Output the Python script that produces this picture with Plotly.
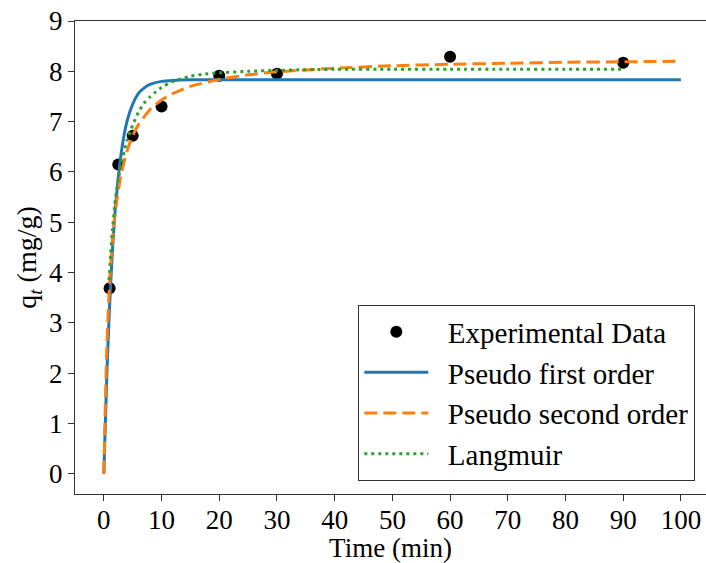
import plotly.graph_objects as go

# Experimental data
exp_t = [1, 2.5, 5, 10, 20, 30, 60, 90]
exp_q = [3.69, 6.15, 6.72, 7.30, 7.91, 7.95, 8.29, 8.17]

# Pseudo first order curve
pfo_t = [0, 0.5, 1, 1.5, 2, 3, 4, 5, 6, 7, 8, 10, 12, 15, 20, 30, 40, 50, 60, 70, 80, 90, 100]
pfo_q = [0, 1.91, 3.36, 4.45, 5.28, 6.37, 7.00, 7.35, 7.56, 7.67, 7.74, 7.80, 7.82, 7.83, 7.83, 7.83, 7.83, 7.83, 7.83, 7.83, 7.83, 7.83, 7.83]

# Pseudo second order curve
pso_t = [0, 0.5, 1, 1.5, 2, 3, 4, 5, 6, 8, 10, 12, 15, 20, 25, 30, 40, 50, 60, 70, 80, 90, 100]
pso_q = [0, 2.48, 3.81, 4.65, 5.23, 5.96, 6.41, 6.72, 6.94, 7.24, 7.43, 7.56, 7.70, 7.84, 7.93, 7.99, 8.06, 8.11, 8.14, 8.16, 8.18, 8.19, 8.20]

# Langmuir curve
lang_t = [0.9, 1.2, 1.5, 2, 2.5, 3, 4, 5, 6, 7, 8, 9, 10, 12, 15, 17, 20, 25, 30, 40, 50, 60, 70, 80, 90]
lang_q = [3.85, 4.40, 4.85, 5.45, 5.85, 6.15, 6.62, 6.93, 7.19, 7.37, 7.49, 7.59, 7.68, 7.80, 7.90, 7.94, 7.97, 8.00, 8.02, 8.04, 8.04, 8.04, 8.04, 8.04, 8.04]

x_ticks = [0, 10, 20, 30, 40, 50, 60, 70, 80, 90, 100]
y_ticks = [0, 1, 2, 3, 4, 5, 6, 7, 8, 9]

series_names = ["Experimental Data", "Pseudo first order", "Pseudo second order", "Langmuir"]

FONT = "Liberation Serif"
PAD = "\u00a0\u00a0"

fig = go.Figure()
fig.add_trace(go.Scatter(x=exp_t, y=exp_q, mode="markers", name=PAD + series_names[0],
                         marker=dict(color="black", size=12)))
fig.add_trace(go.Scatter(x=pfo_t, y=pfo_q, mode="lines", name=PAD + series_names[1],
                         line=dict(color="#1f77b4", width=3, shape="spline", smoothing=0.6)))
fig.add_trace(go.Scatter(x=pso_t, y=pso_q, mode="lines", name=PAD + series_names[2],
                         line=dict(color="#ff7f0e", width=3, dash="13px,6px", shape="spline", smoothing=0.6)))
fig.add_trace(go.Scatter(x=lang_t, y=lang_q, mode="lines", name=PAD + series_names[3],
                         line=dict(color="#2ca02c", width=3, dash="3px,4px", shape="spline", smoothing=0.6)))

fig.update_layout(
    width=706, height=563,
    margin=dict(l=75, r=0, t=21, b=69),
    plot_bgcolor="white", paper_bgcolor="white",
    font=dict(family=FONT, size=27, color="black"),
    showlegend=True,
    legend=dict(x=0.9826, y=0.0275, xanchor="right", yanchor="bottom",
                bordercolor="#333333", borderwidth=1.3, bgcolor="white",
                font=dict(family=FONT, size=29), itemwidth=64,
                tracegroupgap=0),
    xaxis=dict(range=[-5, 104.35], tickvals=x_ticks, ticktext=[str(v) for v in x_ticks],
               showgrid=False, zeroline=False, showline=True, mirror=True,
               linecolor="#333333", linewidth=1.3, ticks="outside", ticklen=6,
               tickcolor="#333333", tickwidth=1.3, tickfont=dict(size=27),
               ticklabelstandoff=-5,
               title=dict(text="Time (min)", standoff=0, font=dict(size=27))),
    yaxis=dict(range=[-0.4, 9], tickvals=y_ticks, ticktext=[str(v) for v in y_ticks],
               showgrid=False, zeroline=False, showline=True, mirror=False,
               linecolor="#333333", linewidth=1.3, ticks="outside", ticklen=6,
               tickcolor="#333333", tickwidth=1.3, tickfont=dict(size=27),
               title=dict(text="q<sub><i>t</i></sub> (mg/g)", standoff=4, font=dict(size=28))),
)

fig.write_html("out.html")
